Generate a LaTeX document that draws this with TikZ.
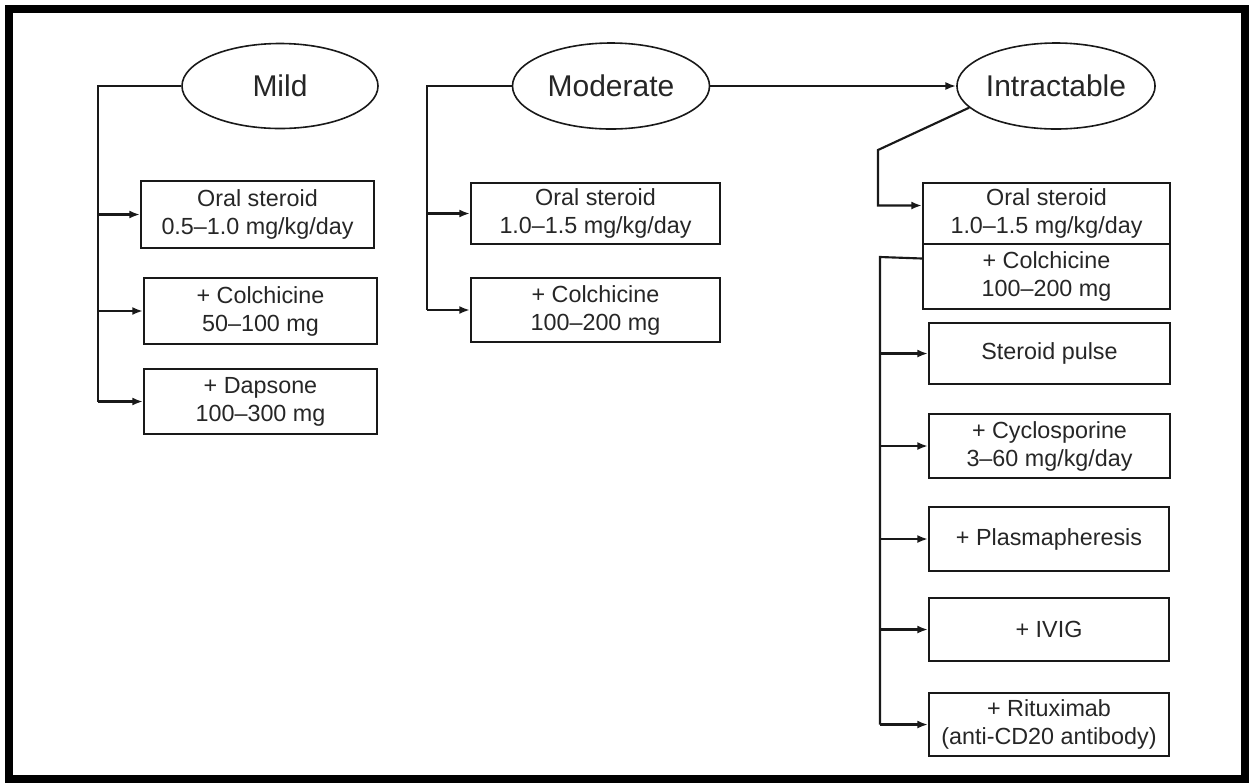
\documentclass[tikz,border=0pt]{standalone}
\usepackage{fontspec}
\setmainfont{Liberation Sans}
\usetikzlibrary{arrows.meta,calc,shapes.geometric}
\begin{document}
\begin{tikzpicture}[x=0.75pt,y=-0.75pt,
  ink/.style={draw=black!90},
  stage/.style={ellipse, ink, line width=1.2pt, inner sep=0pt, text=black!85,
    font=\fontsize{22.5}{26}\selectfont},
  tbox/.style={rectangle, ink, line width=1.5pt, inner sep=0pt, align=center, text=black!85,
    font=\fontsize{17.5}{21}\selectfont},
  link/.style={ink, line width=1.6pt},
  arr/.style={link, -{Latex[length=8pt,width=6pt]}},
]
\useasboundingbox (0,0) rectangle (1251,783);
\draw[line width=6pt] (9,9) rectangle (1245,779);

% stages
\node[stage, minimum width=196*0.75pt, minimum height=85*0.75pt] (mild) at (280,86) {Mild};
\node[stage, minimum width=197*0.75pt, minimum height=86*0.75pt] (mod) at (611,86) {Moderate};
\node[stage, minimum width=197*0.75pt, minimum height=86*0.75pt] (intr) at (1056,86) {Intractable};

% Mild boxes
\node[tbox, anchor=north west, minimum width=233*0.75pt, minimum height=67*0.75pt] (mb1) at (140,180) {Oral steroid\\0.5--1.0 mg/kg/day};
\node[tbox, anchor=north west, minimum width=233*0.75pt, minimum height=66*0.75pt] (mb2) at (143,277) {+ Colchicine\\50--100 mg};
\node[tbox, anchor=north west, minimum width=233*0.75pt, minimum height=65*0.75pt] (mb3) at (143,368) {+ Dapsone\\100--300 mg};

% Moderate boxes
\node[tbox, anchor=north west, minimum width=249*0.75pt, minimum height=61*0.75pt] (ob1) at (470,182) {Oral steroid\\1.0--1.5 mg/kg/day};
\node[tbox, anchor=north west, minimum width=249*0.75pt, minimum height=64*0.75pt] (ob2) at (470,277) {+ Colchicine\\100--200 mg};

% Intractable boxes
\node[tbox, anchor=north west, minimum width=247*0.75pt, minimum height=61*0.75pt] (ia) at (922,182) {Oral steroid\\1.0--1.5 mg/kg/day};
\node[tbox, anchor=north west, minimum width=247*0.75pt, minimum height=65*0.75pt] (ib) at (922,243) {+ Colchicine\\100--200 mg};
\node[tbox, anchor=north west, minimum width=241*0.75pt, minimum height=61*0.75pt] (sp) at (928,322) {Steroid pulse};
\node[tbox, anchor=north west, minimum width=241*0.75pt, minimum height=64*0.75pt] (cy) at (928,413) {+ Cyclosporine\\3--60 mg/kg/day};
\node[tbox, anchor=north west, minimum width=240*0.75pt, minimum height=64*0.75pt] (pl) at (928,506) {+ Plasmapheresis};
\node[tbox, anchor=north west, minimum width=240*0.75pt, minimum height=63*0.75pt] (iv) at (928,597) {+ IVIG};
\node[tbox, anchor=north west, minimum width=240*0.75pt, minimum height=63*0.75pt] (ri) at (928,692) {+ Rituximab\\(anti-CD20 antibody)};

% Mild connectors
\coordinate (mt) at (98,86);
\draw[link] (mild.west) -- (mt) -- (mt |- mb3.west);
\draw[arr] (mt |- mb1.west) -- (mb1.west);
\draw[arr] (mt |- mb2.west) -- (mb2.west);
\draw[arr] (mt |- mb3.west) -- (mb3.west);

% Moderate connectors
\coordinate (ot) at (427,86);
\draw[link] (mod.west) -- (ot) -- (ot |- ob2.west);
\draw[arr] (ot |- ob1.west) -- (ob1.west);
\draw[arr] (ot |- ob2.west) -- (ob2.west);
\draw[arr] (mod.east) -- (intr.west);

% Intractable connectors
\coordinate (ibend) at (878,150);
\draw[arr] (intr.194) -- (ibend) |- ([yshift=6pt]ia.west);
\coordinate (itop) at (880,257);
\draw[link] ([yshift=13.5pt]ib.west) -- (itop) -- (itop |- ri.west);
\draw[arr] (itop |- sp.west) -- (sp.west);
\draw[arr] (itop |- cy.west) -- (cy.west);
\draw[arr] (itop |- pl.west) -- (pl.west);
\draw[arr] (itop |- iv.west) -- (iv.west);
\draw[arr] (itop |- ri.west) -- (ri.west);
\end{tikzpicture}
\end{document}
